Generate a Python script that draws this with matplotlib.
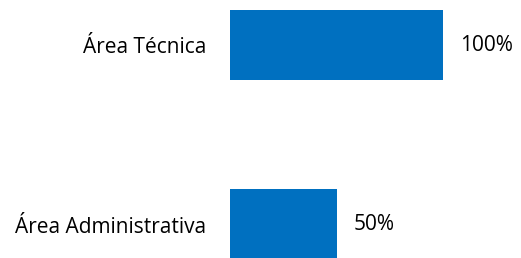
import matplotlib
matplotlib.use("Agg")
import matplotlib.pyplot as plt

categories = ["Área Administrativa", "Área Técnica"]
values = [50, 100]
value_labels = ["50%", "100%"]

plt.rcParams['font.family'] = ['Open Sans', 'DejaVu Sans']

fig = plt.figure(figsize=(5.21, 2.58), dpi=100)
ax = fig.add_axes([230/521, 0, (443-230)/521, 1])
ypos = list(range(len(categories)))
bars = ax.barh(ypos, values, height=0.3955, color="#0070C0")
ax.set_xlim(0, 100)
ax.set_ylim(-0.1866, 1.2507)
ax.set_yticks(ypos)
ax.set_yticklabels(categories, fontsize=15, color="#000000")
ax.tick_params(axis='y', length=0, pad=17)
ax.set_xticks([])
for s in ax.spines.values():
    s.set_visible(False)
for b, lab in zip(bars, value_labels):
    ax.annotate(lab, (b.get_width(), b.get_y() + b.get_height()/2),
                xytext=(12, 0), textcoords="offset points",
                va="center", ha="left", fontsize=15, color="#000000")

fig.savefig("out.png", dpi=100)
